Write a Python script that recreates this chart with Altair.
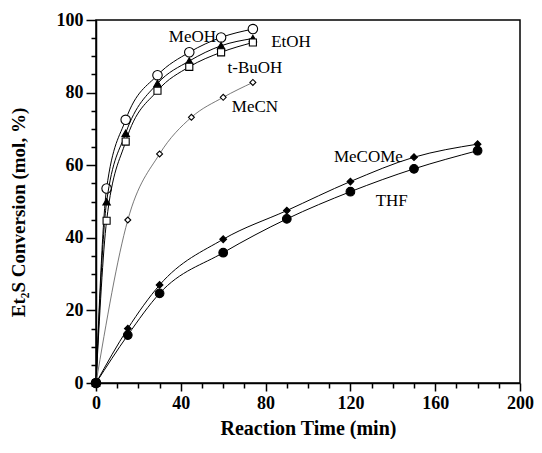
import altair as alt
import pandas as pd

# ---- data ----
t_fast = [0, 5, 14, 29, 44, 59, 74]
meoh = [0, 53.6, 72.5, 84.8, 91.1, 95.2, 97.5]
etoh = [0, 49.9, 68.8, 82.5, 88.7, 92.9, 94.9]
tbuoh = [0, 44.7, 66.5, 80.5, 87.1, 91.1, 93.8]

t_mecn = [0, 15, 30, 45, 60, 74]
mecn = [0, 44.9, 63.1, 73.2, 78.7, 82.8]

t_slow = [0, 15, 30, 60, 90, 120, 150, 180]
mecome = [0, 15.0, 27.0, 39.6, 47.5, 55.5, 62.2, 65.8]
thf = [0, 13.2, 24.7, 35.9, 45.2, 52.7, 59.0, 64.0]

label_names = ["MeOH", "EtOH", "t-BuOH", "MeCN", "MeCOMe", "THF"]
label_x = [45.5, 92, 75, 75, 128.5, 139.5]
label_y = [95.3, 94, 86.7, 75.9, 62.3, 50.2]

x_ticks = list(range(0, 201, 10))
y_ticks = list(range(0, 101, 5))

FONT = "Liberation Serif"

xscale = alt.Scale(domain=[0, 200], nice=False)
yscale = alt.Scale(domain=[0, 100], nice=False)

xaxis = alt.Axis(
    title="Reaction Time (min)",
    values=x_ticks,
    labelExpr="datum.value % 40 === 0 ? datum.label : ''",
    tickSize={"condition": {"test": "datum.value % 40 === 0", "value": 8}, "value": 5},
    grid=False,
    domainColor="black", domainWidth=1.5,
    tickColor="black", tickWidth=1.5,
    labelFont=FONT, labelFontSize=18, labelFontWeight="bold", labelColor="black",
    labelPadding=3, labelFlush=False, labelOverlap=False,
    titleFont=FONT, titleFontSize=20, titleFontWeight="bold", titleColor="black",
    titlePadding=6,
)
yaxis = alt.Axis(
    title="Et₂S Conversion   (mol, %)",
    values=y_ticks,
    labelExpr="datum.value % 20 === 0 ? datum.label : ''",
    tickSize={"condition": {"test": "datum.value % 20 === 0", "value": 10}, "value": 5},
    grid=False,
    domainColor="black", domainWidth=1.5,
    tickColor="black", tickWidth=1.5,
    labelFont=FONT, labelFontSize=18, labelFontWeight="bold", labelColor="black",
    labelPadding=3, labelFlush=False, labelOverlap=False,
    titleFont=FONT, titleFontSize=19, titleFontWeight="bold", titleColor="black",
    titlePadding=28, titleY=192,
)

series = [
    ("MeOH", t_fast, meoh, "circle", False, 90, "black", 1.0),
    ("EtOH", t_fast, etoh, "triangle-up", True, 55, "black", 1.0),
    ("t-BuOH", t_fast, tbuoh, "square", False, 50, "black", 1.0),
    ("MeCN", t_mecn, mecn, "diamond", False, 35, "#555555", 0.8),
    ("MeCOMe", t_slow, mecome, "diamond", True, 45, "black", 1.0),
    ("THF", t_slow, thf, "circle", True, 75, "black", 1.0),
]

X = alt.X("time:Q", scale=xscale, axis=xaxis)
Y = alt.Y("conv:Q", scale=yscale, axis=yaxis)

layers = []
for name, t, v, shape, filled, size, lcol, lw in series:
    df = pd.DataFrame({"time": t, "conv": v})
    base = alt.Chart(df)
    line = base.mark_line(color=lcol, strokeWidth=lw, interpolate="monotone").encode(x=X, y=Y)
    pts = base.mark_point(
        shape=shape, size=size, filled=True,
        fill="black" if filled else "white",
        stroke="black", strokeWidth=1.1, opacity=1,
    ).encode(x=X, y=Y)
    layers += [line, pts]

lab_df = pd.DataFrame({"name": label_names, "time": label_x, "conv": label_y})
labels = alt.Chart(lab_df).mark_text(
    font=FONT, fontSize=17, color="black", align="center", baseline="middle"
).encode(x=X, y=Y, text="name:N")
layers.append(labels)

chart = alt.layer(*layers).properties(
    width=424, height=363,
    autosize=alt.AutoSizeParams(type="none"),
    padding={"left": 88, "top": 12, "right": 14, "bottom": 56},
    background="white",
).configure_view(stroke="black", strokeWidth=1.5)

chart.save("out.html", embed_options={"renderer": "svg", "actions": False})
